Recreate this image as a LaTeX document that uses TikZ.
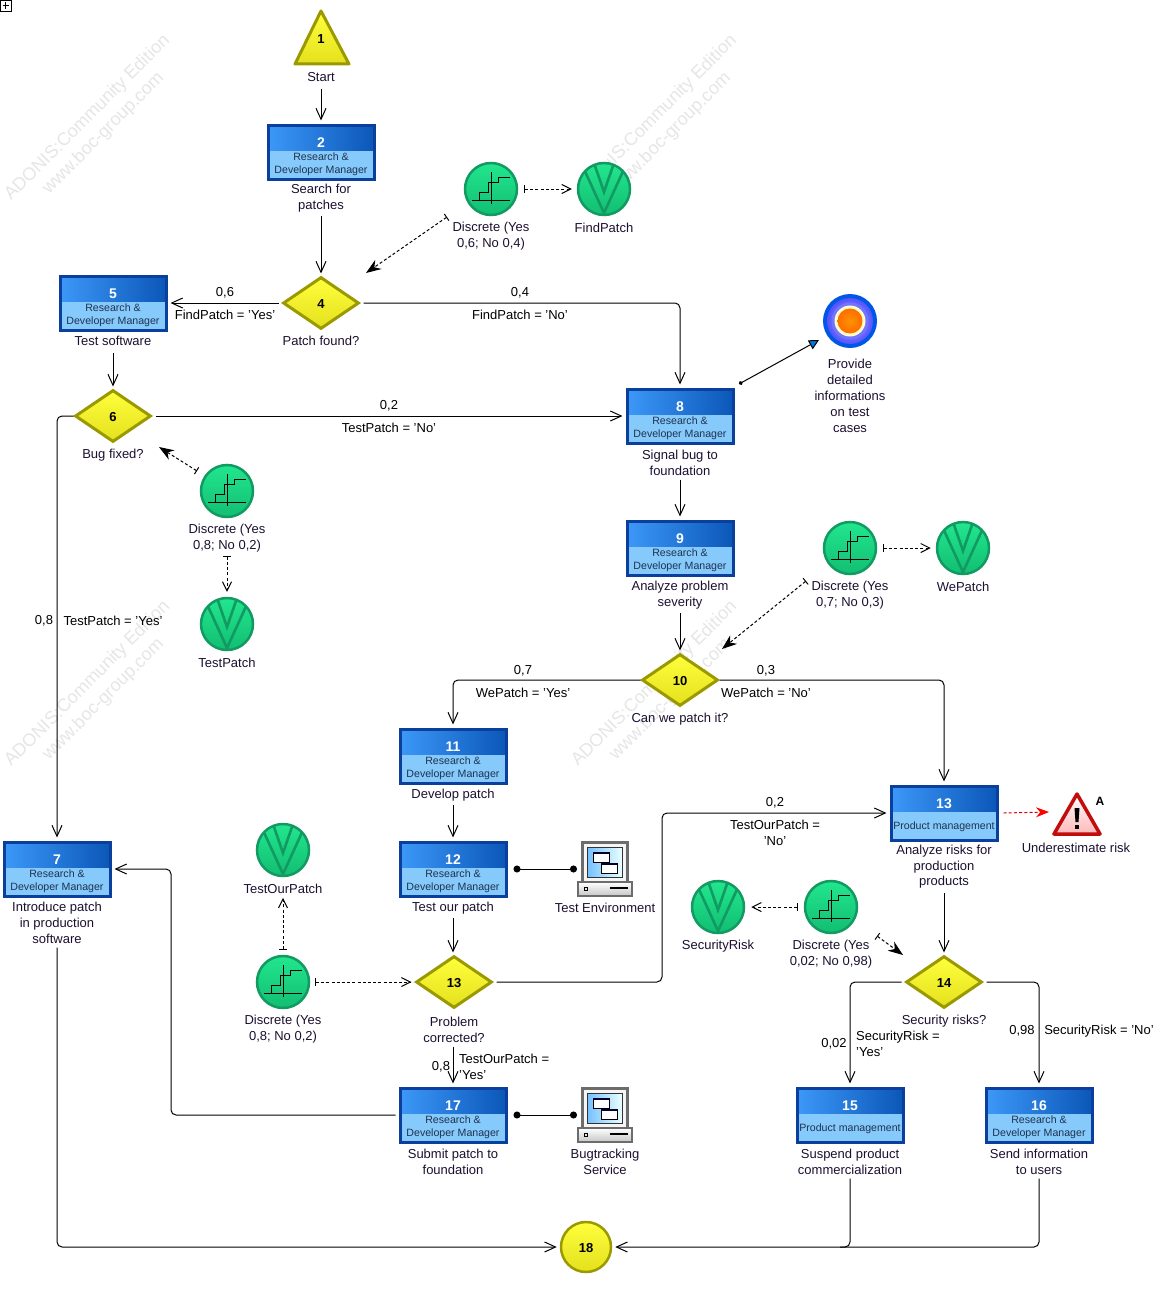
\documentclass[tikz,border=0pt]{standalone}
\usepackage{fontspec}
\setmainfont{Liberation Sans}
\usetikzlibrary{arrows.meta,shapes.geometric}
\definecolor{txt}{HTML}{1C1030}
\definecolor{boxedge}{HTML}{0A3F9E}
\definecolor{boxlo}{HTML}{86C9FB}
\definecolor{boxa}{HTML}{3C98F8}
\definecolor{boxb}{HTML}{0B57B8}
\definecolor{rolec}{HTML}{1E3350}
\definecolor{yedge}{HTML}{9A9A00}
\definecolor{ya}{HTML}{FFFF3C}
\definecolor{yb}{HTML}{E4E01E}
\definecolor{gedge}{HTML}{119A62}
\definecolor{ga}{HTML}{22E68E}
\definecolor{gb}{HTML}{12BE72}
\definecolor{wm}{HTML}{E6E6E6}
\tikzset{
  x=1pt,y=-1pt,
  lab/.style={font=\fontsize{13}{15.8}\selectfont,text=txt,align=center,inner sep=1pt,yshift=-0.8pt},
  conlab/.style={font=\fontsize{13}{15.8}\selectfont,text=black,align=center,inner sep=0pt,yshift=-0.8pt},
  rolelab/.style={font=\fontsize{10.6}{13}\selectfont,text=rolec,align=center,inner sep=0pt},
  numlab/.style={font=\bfseries\fontsize{14}{15}\selectfont,text=white,inner sep=0pt},
  numblack/.style={font=\bfseries\fontsize{13}{14}\selectfont,text=black,inner sep=0pt,yshift=-0.6pt},
  taskbox/.style={draw=boxedge,line width=3pt,minimum width=106pt,minimum height=54pt,inner sep=0pt},
  decisionbox/.style={diamond,aspect=1.48,draw=yedge,line width=3pt,top color=ya,bottom color=yb,minimum width=76pt,minimum height=52pt,inner sep=0pt},
  roundvar/.style={circle,draw=gedge,line width=2.5pt,top color=ga,bottom color=gb,minimum size=52pt,inner sep=0pt},
  flowline/.style={draw=black,line width=1pt,rounded corners=5pt},
  flow/.style={flowline,-{Straight Barb[length=11pt,width=10pt]}},
  dashref/.style={draw=black,line width=1pt,dash pattern=on 3pt off 2.2pt,{Bar[width=8pt,line width=1pt]}-{Straight Barb[length=9pt,width=9pt]}},
  dashsolid/.style={draw=black,line width=1pt,dash pattern=on 3pt off 2.2pt,{Bar[width=8pt,line width=1pt]}-{Stealth[length=15pt,width=11pt]}},
  resline/.style={draw=black,line width=1pt,{Circle[length=7pt]}-{Circle[length=7pt]}},
  wmark/.style={font=\fontsize{18}{22}\selectfont,text=wm,rotate=45,inner sep=0pt}
}
\newcommand{\tasknode}[6]{% id,x,y,num,role,role y offset
  \begin{scope}[shift={(#2,#3)}]
    \shade[left color=boxa,right color=boxb] (-53,-27) rectangle (53,-1);
    \fill[boxlo] (-53,-1) rectangle (53,27);
    \node[taskbox] (t#1) at (0,0) {};
    \node[numlab] (n#1) at (0,-9.4) {#4};
    \node[rolelab] (r#1) at (0,#6) {#5};
  \end{scope}
}
\newcommand{\varnode}[5]{% id,x,y,label,label y offset
  \node[roundvar] (#1) at (#2,#3) {};
  \draw[black,line width=0.9pt,shift={(#2,#3)}] (-19,11) -- (19,11) (0,-17) -- (0,15)
     (-12,11) -- (-12,3) -- (-3,3) -- (-3,-7) -- (7,-7) -- (7,-12) -- (19,-12);
  \node[lab] (l#1) at (#2,#3+#5) {#4};
}
\newcommand{\vnode}[4]{% id,x,y,label
  \node[roundvar] (#1) at (#2,#3) {};
  \begin{scope}[shift={(#2,#3)}]
    \clip (0,0) circle (25.5);
    \draw[gedge,line width=2.6pt,line join=miter] (-21,-22) -- (0,24) -- (21,-22);
    \draw[gedge,line width=2.6pt,line join=miter] (-10,-26) -- (0,3) -- (10,-26);
  \end{scope}
  \node[lab] (l#1) at (#2,#3+38) {#4};
}
\newcommand{\compnode}[4]{% id,x,y,label
  \begin{scope}[shift={(#2,#3)}]
    \fill[gray!85!black] (-24,-28) rectangle (24,12);
    \fill[white!92!gray] (-21,-25) rectangle (21,12);
    \shade[left color=blue!45!cyan!55!white,right color=cyan!8!white,draw=black!80,line width=0.7pt] (-18,-22) rectangle (17,8);
    \draw[black,fill=white,line width=0.7pt] (-12,-17) rectangle (4,-7);
    \fill[black!80!blue] (-12,-17) rectangle (4,-15);
    \draw[black,fill=white,line width=0.7pt] (-4,-6) rectangle (12,4);
    \fill[black!80!blue] (-4,-6) rectangle (12,-4);
    \shade[top color=white,bottom color=gray!45,draw=gray!85!black,line width=2pt] (-27,13) rectangle (27,27);
    \draw[black,line width=0.7pt] (-21,18.5) rectangle (-18,21.5);
    \draw[black,line width=1.2pt] (5,19) -- (23,19);
    \coordinate (#1) at (0,0);
    \coordinate (#1w) at (-28,0);
  \end{scope}
}
\begin{document}
\begin{tikzpicture}
\useasboundingbox (0,0) rectangle (1155,1298);
\fill[white] (0,0) rectangle (1155,1298);
% watermarks
\foreach \wx/\wy/\wid in {0/0/a,567/0/b,0/566/c,567/566/d}{
  \node[wmark] (wm1\wid) at (\wx+87.5,\wy+118) {ADONIS:Community Edition};
  \node[wmark] (wm2\wid) at (\wx+103.5,\wy+133.5) {www.boc-group.com};
}
\fill[white] (560,140) rectangle (607,215);
% plus box
\draw[black,line width=0.9pt,fill=white] (0.5,0.5) rectangle (11,11);
\draw[black,line width=0.8pt] (2.5,5.5) -- (9,5.5) (5.5,2.5) -- (5.5,9);
% start
\draw[yedge,line width=3pt,line join=round,top color=ya,bottom color=yb] (321,11) -- (349,64) -- (295,64) -- cycle;
\node[numblack] (n1) at (321,38) {1};
\node[lab] (l1) at (321,76) {Start};
% tasks
\tasknode{2}{321}{152}{2}{Research \&\\Developer Manager}{12.6}
\node[lab] (l2) at (321,197) {Search for\\patches};
\tasknode{5}{113}{303}{5}{Research \&\\Developer Manager}{12.6}
\node[lab] (l5) at (113,340) {Test software};
\tasknode{8}{680}{416}{8}{Research \&\\Developer Manager}{12.6}
\node[lab] (l8) at (680,462) {Signal bug to\\foundation};
\tasknode{9}{680}{548}{9}{Research \&\\Developer Manager}{12.6}
\node[lab] (l9) at (680,594) {Analyze problem\\severity};
\tasknode{11}{453}{756}{11}{Research \&\\Developer Manager}{12.6}
\node[lab] (l11) at (453,794) {Develop patch};
\tasknode{12}{453}{869}{12}{Research \&\\Developer Manager}{12.6}
\node[lab] (l12) at (453,907) {Test our patch};
\tasknode{17}{453}{1115}{17}{Research \&\\Developer Manager}{12.6}
\node[lab] (l17) at (453,1161) {Submit patch to\\foundation};
\tasknode{7}{57}{869}{7}{Research \&\\Developer Manager}{12.6}
\node[lab] (l7) at (57,922) {Introduce patch\\in production\\software};
\tasknode{pm}{944}{813}{13}{Product management}{13.5}
\node[lab] (lpm) at (944,866) {Analyze risks for\\production\\products};
\tasknode{15}{850}{1115}{15}{Product management}{13.5}
\node[lab] (l15) at (850,1161) {Suspend product\\commercialization};
\tasknode{16}{1039}{1115}{16}{Research \&\\Developer Manager}{12.6}
\node[lab] (l16) at (1039,1161) {Send information\\to users};
% decisions
\node[decisionbox] (d4) at (321,303) {};  \node[numblack] (n4) at (321,303) {4};
\node[lab] (ld4) at (321,340) {Patch found?};
\node[decisionbox] (d6) at (113,416) {};  \node[numblack] (n6) at (113,416) {6};
\node[lab] (ld6) at (113,454) {Bug fixed?};
\node[decisionbox] (d10) at (680,680) {}; \node[numblack] (n10) at (680,680) {10};
\node[lab] (ld10) at (680,718) {Can we patch it?};
\node[decisionbox] (d13) at (454,982) {}; \node[numblack] (n13) at (454,982) {13};
\node[lab] (ld13) at (454,1029) {Problem\\corrected?};
\node[decisionbox] (d14) at (944,982) {}; \node[numblack] (n14) at (944,982) {14};
\node[lab] (ld14) at (944,1020) {Security risks?};
% end
\node[circle,draw=yedge,line width=2.5pt,top color=ya,bottom color=yb,minimum size=50pt,inner sep=0pt] (e18) at (586,1247) {};
\node[numblack] (n18) at (586,1247) {18};
% variables
\varnode{v1}{491}{189}{Discrete (Yes\\0,6; No 0,4)}{46}
\vnode{fp}{604}{189}{FindPatch}
\varnode{v2}{227}{491}{Discrete (Yes\\0,8; No 0,2)}{46}
\vnode{tp}{227}{624}{TestPatch}
\varnode{v3}{850}{548}{Discrete (Yes\\0,7; No 0,3)}{46}
\vnode{wp}{963}{548}{WePatch}
\vnode{top}{283}{850}{TestOurPatch}
\varnode{v4}{283}{982}{Discrete (Yes\\0,8; No 0,2)}{46}
\vnode{sr}{718}{907}{SecurityRisk}
\varnode{v5}{831}{907}{Discrete (Yes\\0,02; No 0,98)}{46}
% goal
\node[circle,fill=blue!62!cyan!90!black,minimum size=54pt,inner sep=0pt] (goal) at (850,321) {};
\shade[inner color=blue!30!white,outer color=blue!68!white] (850,321) circle (23);
\fill[blue!55!white] (850,321) circle (18.5);
\fill[yellow!22!white] (850,321) circle (15.5);
\shade[inner color=orange!85!yellow,outer color=orange!85!red] (850,321) circle (12.5);
\node[lab] (lgoal) at (850,395) {Provide\\detailed\\informations\\on test\\cases};
% risk
\draw[red!75!black!95,line width=3.5pt,line join=round,top color=white,bottom color=red!28!white] (1077,794) -- (1100,834) -- (1054,834) -- cycle;
\fill[black] (1074.5,808) -- (1079.5,808) -- (1078.5,822) -- (1075.5,822) -- cycle;
\fill[black] (1075,824.5) rectangle (1079,829);
\coordinate (risk) at (1049,812);
\node[conlab,font=\bfseries\fontsize{12}{14}\selectfont] (lA) at (1100,801) {A};
\node[lab] (lrisk) at (1076,847) {Underestimate risk};
% computers
\compnode{cA}{605}{869}{}
\node[lab] (lcA) at (605,907) {Test Environment};
\compnode{cB}{605}{1115}{}
\node[lab] (lcB) at (605,1161) {Bugtracking\\Service};
% flow connectors
\draw[flow] ([yshift=-6pt]l1.south) -- ([yshift=3pt]t2.north);
\draw[flow] ([yshift=-3pt]l2.south) -- ([yshift=2pt]d4.north);
\draw[flow] ([xshift=-3pt]d4.west) -- ([xshift=3pt]t5.east);
\draw[flow] ([xshift=3pt]d4.east) -| ([yshift=3pt]t8.north);
\draw[flow] ([yshift=-6pt]l5.south) -- ([yshift=2pt]d6.north);
\draw[flow] ([xshift=3pt]d6.east) -- ([xshift=-3pt]t8.west);
\draw[flow] (d6.west) -| ([yshift=3pt]t7.north);
\draw[flow] ([yshift=-3pt]l8.south) -- ([yshift=3pt]t9.north);
\draw[flow] ([yshift=-3pt]l9.south) -- ([yshift=2pt]d10.north);
\draw[flow] (d10.west) -| ([yshift=3pt]t11.north);
\draw[flow] (d10.east) -| ([yshift=3pt]tpm.north);
\draw[flow] ([yshift=-3pt]l11.south) -- ([yshift=3pt]t12.north);
\draw[flow] ([yshift=-3pt]l12.south) -- ([yshift=2pt]d13.north -| l12.south);
\coordinate (bendA) at (662,900);
\draw[flow] ([xshift=3pt]d13.east) -| (bendA) |- ([xshift=-3pt]tpm.west);
\draw[flow] ([yshift=-3pt]ld13.south -| t17.north) -- ([yshift=3pt]t17.north);
\coordinate (bendB) at (171,1000);
\draw[flow] ([xshift=-3pt]t17.west) -| (bendB) |- ([xshift=3pt]t7.east);
\draw[flow] ([yshift=-3pt]lpm.south) -- ([yshift=2pt]d14.north);
\draw[flow] ([xshift=-3pt]d14.west) -| ([yshift=3pt]t15.north);
\draw[flow] ([xshift=3pt]d14.east) -| ([yshift=3pt]t16.north);
\draw[flow] ([yshift=-3pt]l7.south) |- ([xshift=-3pt]e18.west);
\coordinate (join15) at (t15.south |- e18.east);
\draw[flowline] ([yshift=-3pt]l15.south) -- (join15) -- ([xshift=-10pt]join15);
\draw[flow] ([yshift=-3pt]l16.south) |- ([xshift=3pt]e18.east);
% flow labels
\node[conlab] (f1) at (225,292) {0,6};
\node[conlab] (f2) at (225,314) {FindPatch = 'Yes'};
\node[conlab] (f3) at (520,292) {0,4};
\node[conlab] (f4) at (520,314) {FindPatch = 'No'};
\node[conlab] (f5) at (389,405) {0,2};
\node[conlab] (f6) at (389,427) {TestPatch = 'No'};
\node[conlab] (f7) at (44,620) {0,8};
\node[conlab] (f8) at (113,620) {TestPatch = 'Yes'};
\node[conlab] (f9) at (523,670) {0,7};
\node[conlab] (f10) at (523,692) {WePatch = 'Yes'};
\node[conlab] (f11) at (766,670) {0,3};
\node[conlab] (f12) at (766,692) {WePatch = 'No'};
\node[conlab] (f13) at (775,802) {0,2};
\node[conlab] (f14) at (775,832) {TestOurPatch =\\'No'};
\node[conlab] (f15) at (441,1066) {0,8};
\node[conlab,align=left,anchor=west] (f16) at (459,1066) {TestOurPatch =\\'Yes'};
\node[conlab] (f17) at (834,1043) {0,02};
\node[conlab,align=left,anchor=west] (f18) at (856,1043) {SecurityRisk =\\'Yes'};
\node[conlab] (f19) at (1022,1030) {0,98};
\node[conlab] (f20) at (1099,1030) {SecurityRisk = 'No'};
% reference connectors
\draw[dashref] ([xshift=6pt]v1.east) -- ([xshift=-5pt]fp.west);
\draw[dashref] ([xshift=6pt]v3.east) -- ([xshift=-5pt]wp.west);
\draw[dashref] ([xshift=-6pt]v5.west) -- ([xshift=6pt]sr.east);
\draw[dashref] ([xshift=5pt]v4.east) -- ([xshift=-3pt]d13.west);
\draw[dashref] ([yshift=5pt]v4.north) -- ([yshift=-3pt]ltop.south);
\draw[dashref] ([yshift=-3pt]lv2.south) -- ([yshift=5pt]tp.north);
\coordinate (cv1) at (447,217); \coordinate (cd4) at (366,273);
\draw[dashsolid] (cv1) -- (cd4);
\coordinate (cv2) at (197,471); \coordinate (cd6) at (159,447);
\draw[dashsolid] (cv2) -- (cd6);
\coordinate (cv3) at (806,581); \coordinate (cd10) at (722,649);
\draw[dashsolid] (cv3) -- (cd10);
\coordinate (cv5) at (877,936); \coordinate (cd14) at (903,955);
\draw[dashsolid] (cv5) -- (cd14);
\draw[red!85!black,line width=1pt,dash pattern=on 3pt off 2.2pt,-{Stealth[length=13pt,width=10pt,red]}] ([xshift=5pt]tpm.east) -- (risk);
% goal link
\coordinate (g8) at (739,384); \coordinate (g9) at (819,340);
\draw[black,line width=1pt,{Circle[length=4pt]}-{Triangle[length=10pt,width=10pt,fill=blue!45!cyan!85!black]}] (g8) -- (g9);
% resource links
\draw[resline] ([xshift=6pt]t12.east) -- (cAw);
\draw[resline] ([xshift=6pt]t17.east) -- (cBw);
\end{tikzpicture}
\end{document}
